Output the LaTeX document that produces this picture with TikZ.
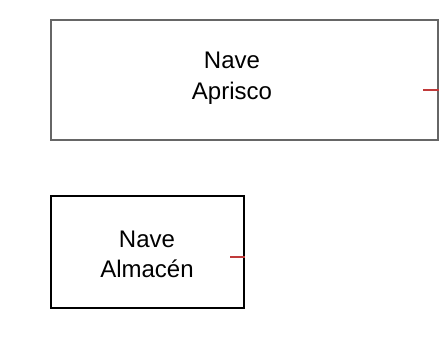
\documentclass[tikz,border=0pt]{standalone}
\usepackage{fontspec}
\setmainfont{Liberation Sans}
\definecolor{stubred}{HTML}{C03A3A}
\begin{document}
\begin{tikzpicture}[x=1pt,y=-1pt,
  boxA/.style={draw=black!60,line width=1.3pt,rectangle,inner sep=0pt},
  boxB/.style={draw=black,line width=1.1pt,rectangle,inner sep=0pt},
  lbl/.style={anchor=base,inner sep=0pt,font=\fontsize{24}{30}\selectfont},
  stub/.style={draw=stubred,line width=1.2pt}]
\useasboundingbox (0,0) rectangle (446,337);
% Nave Aprisco
\node[boxA,minimum width=387pt,minimum height=120pt] (aprisco) at (244.5,80) {};
\node[lbl] (aprisco1) at (232,68) {Nave};
\node[lbl] (aprisco2) at (232,99) {Aprisco};
\coordinate (apriscoPort) at (423,90);
\draw[stub] (apriscoPort) -- (apriscoPort -| aprisco.east);
% Nave Almacén
\node[boxB,minimum width=193pt,minimum height=112pt] (almacen) at (147.5,252) {};
\node[lbl] (almacen1) at (147,247) {Nave};
\node[lbl] (almacen2) at (147,277) {Almacén};
\coordinate (almacenPort) at (230,257);
\draw[stub] (almacenPort) -- (almacenPort -| almacen.east);
\end{tikzpicture}
\end{document}
